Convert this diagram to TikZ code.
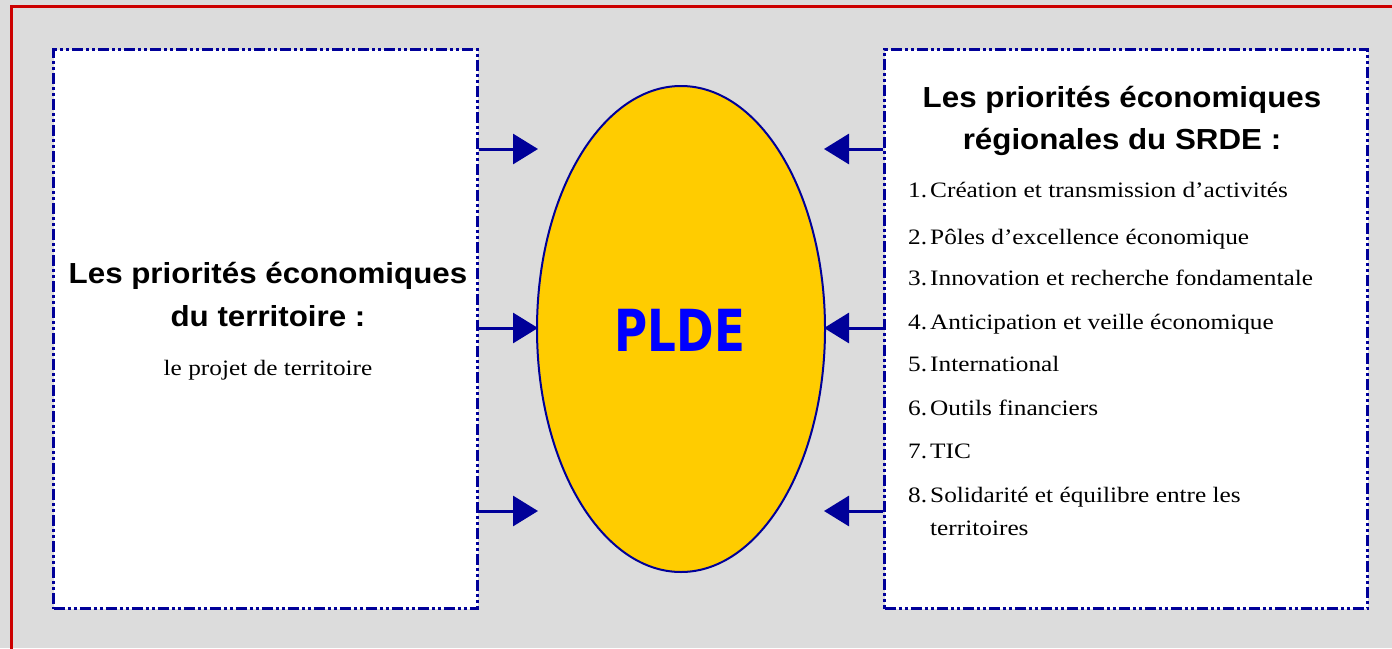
\documentclass[tikz,border=0pt]{standalone}
\usepackage{fontspec}
\setmainfont[FakeStretch=1.15]{Liberation Serif}
\newfontfamily\headfont[FakeStretch=1.08]{Liberation Sans}
\newfontfamily\pldefont{DejaVu Sans}
\usetikzlibrary{arrows.meta,shapes.geometric}
\definecolor{bgGray}{RGB}{220,220,220}
\definecolor{frameRed}{RGB}{204,0,0}
\definecolor{navy}{RGB}{0,0,153}
\definecolor{eggYellow}{RGB}{255,204,0}
\definecolor{pldeBlue}{RGB}{0,0,255}
\begin{document}
\begin{tikzpicture}[x=1pt,y=-1pt,
  panel/.style={draw=navy,fill=white,line width=3pt,
    dash pattern=on 11pt off 3pt on 3pt off 3pt on 3pt off 3pt,
    minimum width=#1,inner sep=0pt,anchor=north west},
  headtxt/.style={font=\headfont\bfseries\fontsize{29}{35}\selectfont,anchor=base,text=black},
  listtxt/.style={font=\fontsize{22}{26}\selectfont,anchor=base west,text=black,inner sep=0pt},
  feed/.style={draw=navy,line width=3pt,-{Triangle[length=25pt,width=30pt]}}
]
\useasboundingbox (0,0) rectangle (1392,648);
\fill[bgGray] (0,0) rectangle (1392,648);
\draw[frameRed,line width=3pt] (11,650) -- (11,6.5) -- (1394,6.5);

% panels
\node[panel=424pt,minimum height=559pt] (lbox) at (52,48) {};
\node[panel=483pt,minimum height=559pt] (rbox) at (883,48) {};

% egg
\node[ellipse,draw=navy,line width=2pt,fill=eggYellow,minimum width=288pt,minimum height=486pt,inner sep=0pt] (plde) at (681,329) {};
\node[text=pldeBlue,font=\pldefont\bfseries\fontsize{58}{60}\selectfont,inner sep=0pt] (pldetxt) at (680,330) {\scalebox{0.78}[1]{PLDE}};

% left text
\node[headtxt] (lt1) at (268,283) {Les priorités économiques};
\node[headtxt] (lt2) at (268,326) {du territoire :};
\node[font=\fontsize{22}{26}\selectfont,anchor=base] (lt3) at (268,375) {le projet de territoire};

% right text
\node[headtxt] (rt1) at (1122,107) {Les priorités économiques};
\node[headtxt] (rt2) at (1122,149) {régionales du SRDE :};

\foreach \n/\t/\y in {1/Création et transmission d’activités/197,
                      2/Pôles d’excellence économique/244,
                      3/Innovation et recherche fondamentale/285,
                      4/Anticipation et veille économique/329,
                      5/International/371,
                      6/Outils financiers/415,
                      7/TIC/458,
                      8/Solidarité et équilibre entre les/502}{
  \node[listtxt] (num\n) at (908,\y) {\n.};
  \node[listtxt] (item\n) at (930,\y) {\t};
}
\node[listtxt] (item8b) at (930,535) {territoires};

% arrows
\foreach \y [count=\i] in {149,328,511}{
  \coordinate (ls\i) at (lbox.east |- 0,\y);
  \coordinate (lt\i x) at (538,\y);
  \coordinate (rs\i) at (rbox.west |- 0,\y);
  \coordinate (rt\i x) at (824,\y);
  \draw[feed] (ls\i) -- (lt\i x);
  \draw[feed] (rs\i) -- (rt\i x);
}
\end{tikzpicture}
\end{document}
